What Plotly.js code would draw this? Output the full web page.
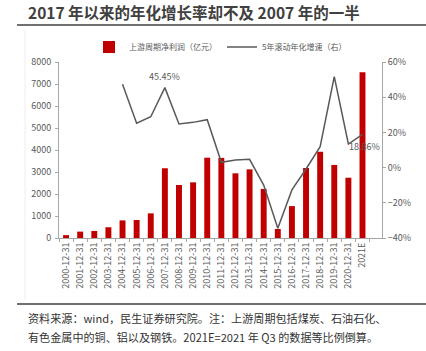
<!DOCTYPE html>
<html><head><meta charset="utf-8">
<script src="https://cdn.plot.ly/plotly-3.0.1.min.js"></script>
<style>body{margin:0;background:#fff}#c{width:426px;height:351px}</style>
</head><body><div id="c"></div>
<script>
const categories = ["2000-12-31","2001-12-31","2002-12-31","2003-12-31","2004-12-31","2005-12-31","2006-12-31","2007-12-31","2008-12-31","2009-12-31","2010-12-31","2011-12-31","2012-12-31","2013-12-31","2014-12-31","2015-12-31","2016-12-31","2017-12-31","2018-12-31","2019-12-31","2020-12-31","2021E"];
const profit = [130,290,320,490,800,820,1120,3170,2410,2530,3650,3640,2940,3120,2230,410,1450,3180,3920,3320,2740,7530];
const growth = [null,null,null,null,47.3,25.2,28.9,45.45,24.8,25.7,27.2,3.0,4.3,4.7,-9.9,-34.5,-12.7,-0.8,11.9,51.7,13.4,18.86];
const barName = "上游周期净利润（亿元）";
const lineName = "5年滚动年化增速（右）";
const titleText = "2017 年以来的年化增长率却不及 2007 年的一半";
const note1 = "资料来源：wind，民生证券研究院。注：上游周期包括煤炭、石油石化、";
const note2 = "有色金属中的铜、铝以及钢铁。2021E=2021 年 Q3 的数据等比例倒算。";
const cjk = '"Microsoft YaHei","Noto Sans CJK SC",sans-serif';

const traces = [
 {type:'bar', x:categories, y:profit, name:barName, marker:{color:'#C00000'}, yaxis:'y'},
 {type:'scatter', mode:'lines', x:categories, y:growth, name:lineName, line:{color:'#595959', width:1.5}, yaxis:'y2', connectgaps:false}
];
const i07 = categories.indexOf("2007-12-31"), i21 = categories.length-1;
const layout = {
 width:426, height:351,
 margin:{l:59, r:44, t:62, b:113},
 paper_bgcolor:'#fff', plot_bgcolor:'#fff',
 font:{family:cjk, size:9, color:'#595959'},
 bargap:0.58,
 showlegend:true,
 legend:{orientation:'h', x:0.5, xanchor:'center', y:1.085, yanchor:'middle', font:{size:8,color:'#595959'}, itemwidth:30, tracegroupgap:0},
 xaxis:{type:'category', tickangle:-90, tickfont:{size:9,color:'#595959', family:cjk}, showline:true, linecolor:'#a6a6a6', ticks:'outside', ticklen:3, tickcolor:'#a6a6a6', tickson:'boundaries', showgrid:false, zeroline:false},
 yaxis:{range:[0,8000], dtick:1000, showgrid:false, zeroline:false, showline:true, linecolor:'#a6a6a6', ticks:'outside', ticklen:3, tickcolor:'#a6a6a6', tickfont:{size:9,color:'#595959'}, ticklabelstandoff:2},
 yaxis2:{range:[-40,60], dtick:20, overlaying:'y', side:'right', ticksuffix:'%', showgrid:false, zeroline:false, showline:true, linecolor:'#a6a6a6', ticks:'outside', ticklen:3, tickcolor:'#a6a6a6', tickfont:{size:9,color:'#595959'}},
 annotations:[
  {x:categories[i07], y:growth[i07], xref:'x', yref:'y2', text:growth[i07].toFixed(2)+'%', showarrow:false, yanchor:'bottom', yshift:3, font:{size:9,color:'#595959'}},
  {x:categories[i21], y:growth[i21], xref:'x', yref:'y2', text:growth[i21].toFixed(2)+'%', showarrow:false, yanchor:'top', yshift:-4, xshift:2, font:{size:9,color:'#595959'}},
  {xref:'paper', yref:'paper', x:-33/323, y:1+50/176, xanchor:'left', yanchor:'middle', text:'<b>'+titleText+'</b>', showarrow:false, font:{size:15.5,color:'#404040',family:cjk}},
  {xref:'paper', yref:'paper', x:-33/323, y:-(318-238)/176, xanchor:'left', yanchor:'middle', text:note1, showarrow:false, font:{size:11.1,color:'#333333',family:cjk}},
  {xref:'paper', yref:'paper', x:-33/323, y:-(337-238)/176, xanchor:'left', yanchor:'middle', text:note2, showarrow:false, font:{size:11.1,color:'#333333',family:cjk}}
 ],
 shapes:[
  {type:'line', xref:'paper', yref:'paper', x0:-42/323, x1:367/323, y0:1+37/176, y1:1+37/176, line:{color:'#404040', width:1.5}},
  {type:'line', xref:'paper', yref:'paper', x0:-42/323, x1:367/323, y0:-(304-238)/176, y1:-(304-238)/176, line:{color:'#404040', width:1.5}},
  {type:'line', xref:'paper', yref:'paper', x0:-34/323, x1:-34/323, y0:-(300-238)/176, y1:1+32/176, line:{color:'#eeeeee', width:1}}
 ]
};
Plotly.newPlot('c', traces, layout, {staticPlot:true, displayModeBar:false});
</script></body></html>
